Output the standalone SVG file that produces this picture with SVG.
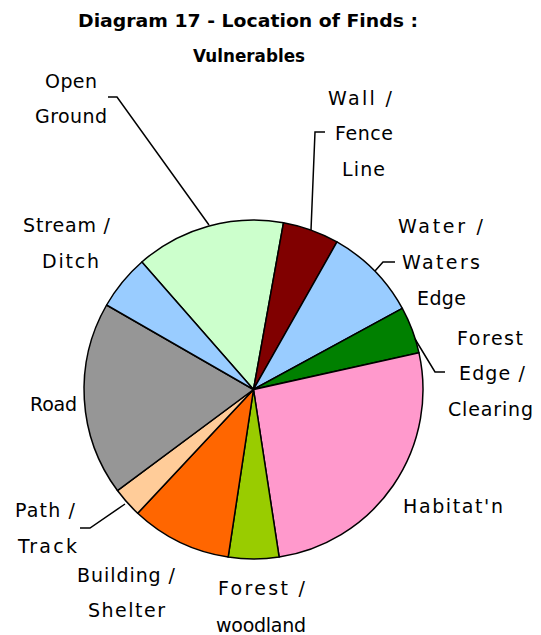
<svg xmlns="http://www.w3.org/2000/svg" width="541" height="635" viewBox="0 0 541 635">
<style>
.t{font-family:"DejaVu Sans","Liberation Sans",sans-serif;font-size:19px;fill:#000}
.h{font-family:"DejaVu Sans","Liberation Sans",sans-serif;font-size:18px;font-weight:bold;fill:#000}
.s{stroke:#000;stroke-width:1.5;stroke-linejoin:round}
.l{fill:none;stroke:#000;stroke-width:1.5}
</style>
<rect width="541" height="635" fill="#fff"/>
<g id="title">
<text class="h" x="78" y="27" textLength="340" lengthAdjust="spacingAndGlyphs">Diagram 17 - Location of Finds :</text>
<text class="h" x="193" y="62" textLength="112" lengthAdjust="spacingAndGlyphs">Vulnerables</text>
</g>
<g id="pie">
<g id="open-ground"><path class="s" fill="#CCFFCC" d="M253.5,389.5 L141.85,261.97 A169.5,169.5 0 0 1 283.52,222.68 Z"/></g>
<g id="wall"><path class="s" fill="#800000" d="M253.5,389.5 L283.52,222.68 A169.5,169.5 0 0 1 336.96,241.97 Z"/></g>
<g id="water"><path class="s" fill="#99CCFF" d="M253.5,389.5 L336.96,241.97 A169.5,169.5 0 0 1 402.32,308.36 Z"/></g>
<g id="forest-edge"><path class="s" fill="#008000" d="M253.5,389.5 L402.32,308.36 A169.5,169.5 0 0 1 418.98,352.82 Z"/></g>
<g id="habitat"><path class="s" fill="#FF99CC" d="M253.5,389.5 L418.98,352.82 A169.5,169.5 0 0 1 279.14,557.05 Z"/></g>
<g id="forest-woodland"><path class="s" fill="#99CC00" d="M253.5,389.5 L279.14,557.05 A169.5,169.5 0 0 1 228.16,557.1 Z"/></g>
<g id="building"><path class="s" fill="#FF6600" d="M253.5,389.5 L228.16,557.1 A169.5,169.5 0 0 1 137.68,513.27 Z"/></g>
<g id="path-track"><path class="s" fill="#FFCC99" d="M253.5,389.5 L137.68,513.27 A169.5,169.5 0 0 1 117.43,490.56 Z"/></g>
<g id="road"><path class="s" fill="#969696" d="M253.5,389.5 L117.43,490.56 A169.5,169.5 0 0 1 106.61,305.0 Z"/></g>
<g id="stream"><path class="s" fill="#99CCFF" d="M253.5,389.5 L106.61,305.0 A169.5,169.5 0 0 1 141.85,261.97 Z"/></g>
</g>
<g id="connectors">
<polyline class="l" points="108,97 117,97 209,225"/>
<polyline class="l" points="325,132 315,132 311,230"/>
<polyline class="l" points="395,262 383,262 375,271"/>
<polyline class="l" points="445,372 435,372 415,339"/>
<polyline class="l" points="80,528 90,528 125,504"/>
</g>
<g id="labels">
<g id="lbl-open"><text class="t" x="45" y="88" textLength="52">Open</text><text class="t" x="35" y="123" textLength="72">Ground</text></g>
<g id="lbl-wall"><text class="t" x="328" y="105" textLength="64">Wall /</text><text class="t" x="335" y="140" textLength="58">Fence</text><text class="t" x="342" y="176" textLength="43">Line</text></g>
<g id="lbl-water"><text class="t" x="398" y="233" textLength="85">Water /</text><text class="t" x="402" y="269" textLength="78">Waters</text><text class="t" x="417" y="305" textLength="49">Edge</text></g>
<g id="lbl-forest-edge"><text class="t" x="457" y="345" textLength="66">Forest</text><text class="t" x="459" y="380" textLength="66">Edge /</text><text class="t" x="448" y="416" textLength="85">Clearing</text></g>
<g id="lbl-habitat"><text class="t" x="403" y="513" textLength="100">Habitat'n</text></g>
<g id="lbl-forest-woodland"><text class="t" x="218" y="595" textLength="87">Forest /</text><text class="t" x="216" y="632" textLength="90">woodland</text></g>
<g id="lbl-building"><text class="t" x="77" y="582" textLength="98">Building /</text><text class="t" x="88" y="617" textLength="77">Shelter</text></g>
<g id="lbl-path"><text class="t" x="15" y="517" textLength="60">Path /</text><text class="t" x="18" y="553" textLength="59">Track</text></g>
<g id="lbl-stream"><text class="t" x="23" y="232" textLength="87">Stream /</text><text class="t" x="42" y="268" textLength="57">Ditch</text></g>
<g id="lbl-road"><text class="t" x="30" y="411" textLength="47">Road</text></g>
</g>
</svg>
